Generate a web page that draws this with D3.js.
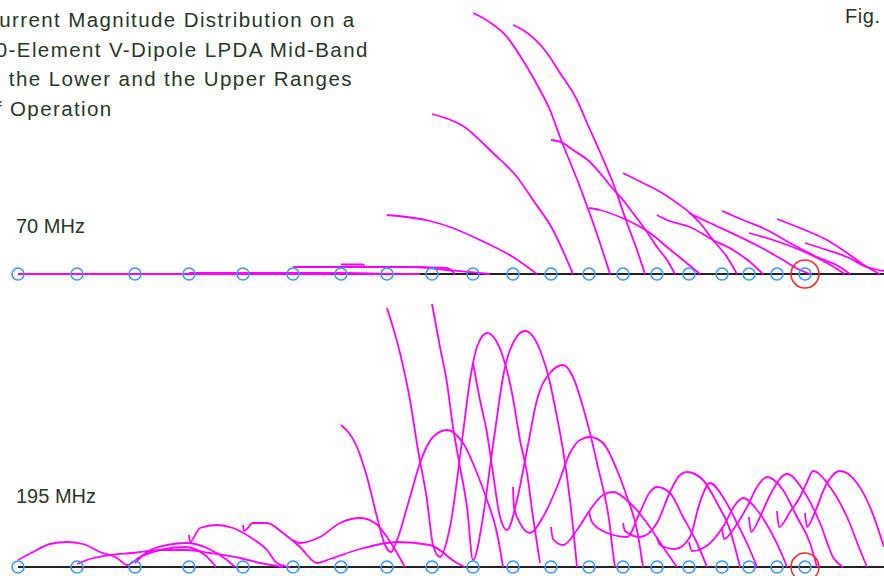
<!DOCTYPE html>
<html><head><meta charset="utf-8">
<script src="https://cdn.jsdelivr.net/npm/d3@7"></script>
<style>
html,body{margin:0;padding:0;background:#fff;}
svg{display:block;}
text{font-family:"Liberation Sans",Arial,sans-serif;fill:#263826;}
</style></head>
<body>
<svg id="chart" width="884" height="576"></svg>
<script>
// ---------- DATA ----------
const titleLines = ["Current Magnitude Distribution on a","20-Element V-Dipole LPDA Mid-Band","in the Lower and the Upper Ranges","of Operation"];
const figLabel = "Fig.";
const bandLabels = ["70 MHz","195 MHz"];
// element positions along the boom (boom units)
const elementPos = [18,77,135,189,243,293,341,387,432,473,513,551,589,623,657,689,722,749,777,805];
const feedElement = 20;
// current magnitude curves, [boom position, relative current]
const curves70 = [
 [[18,0],[216,0]],
 [[77,0],[283,0]],
 [[135,0],[330,0]],
 [[189,1],[340,1],[380,0]],
 [[243,0.5],[420,0]],
 [[293,7],[400,7],[447,6],[455,0]],
 [[341,9.5],[363,9.5],[365,7],[415,7],[447,4],[490,0]],
 [[387,59],[430,53],[450,47],[480,34],[513,17],[537,0]],
 [[432,160],[463,148],[493,121],[517,97],[533,74],[553,44],[573,0]],
 [[473,261],[483,256],[507,237],[527,207],[540,184],[550,164],[560,137],[580,87],[600,31],[610,0]],
 [[513,249],[523,244],[547,221],[560,201],[577,174],[587,151],[600,122],[613,91],[627,51],[637,24],[645,0]],
 [[551,134],[563,131],[573,124],[590,112],[600,101],[613,85],[623,74],[633,61],[647,42],[657,27],[667,14],[675,0]],
 [[589,66],[600,64],[620,57],[633,51],[650,41],[667,27],[683,14],[700,0]],
 [[623,101],[643,91],[657,84],[677,71],[690,61],[700,51],[713,34],[727,17],[737,0]],
 [[657,59],[667,54],[690,47],[713,34],[733,24],[750,12],[763,0]],
 [[689,61],[710,51],[740,37],[760,27],[783,14],[800,4],[810,0]],
 [[722,63],[743,54],[767,44],[790,31],[817,17],[840,7],[850,0]],
 [[749,41],[773,34],[800,24],[827,11],[845,0]],
 [[777,55],[800,46],[827,34],[847,21],[867,7],[880,0]],
 [[805,31],[827,24],[847,17],[867,7],[884,3]]
];
const curves195 = [
 [[18,7],[33,15],[50,23],[67,25],[83,23],[100,15],[117,9],[127,2],[140,10],[160,17],[185,20],[205,12],[216,0]],
 [[77,3],[90,8],[110,12],[133,14],[160,17],[187,17],[210,14],[240,9],[260,4],[283,0]],
 [[135,4],[147,15],[167,22],[187,24],[207,19],[227,7],[235,0]],
 [[189,32],[190,25],[200,39],[217,42],[233,39],[250,30],[267,17],[277,4],[290,0]],
 [[243,42],[244,36],[253,44],[267,44],[283,34],[300,20],[317,4],[330,8],[360,18],[397,25],[430,22],[457,4],[465,0]],
 [[293,27],[300,24],[320,30],[340,44],[360,49],[375,44],[387,30],[397,14],[405,0]],
 [[341,142],[357,120],[367,90],[377,50],[385,22],[391,15],[397,27],[410,70],[420,104],[433,130],[447,137],[463,124],[477,94],[487,67],[497,34],[503,0]],
 [[387,259],[400,214],[410,167],[418,117],[427,67],[433,22],[440,10],[450,40],[463,134],[470,187],[477,220],[487,234],[503,210],[512,174],[520,127],[527,94],[533,50],[540,4]],
 [[432,263],[440,220],[447,184],[453,140],[460,100],[467,60],[473,7],[483,50],[490,100],[497,150],[503,190],[510,217],[525,236],[540,217],[550,184],[557,150],[563,117],[570,67],[577,0]],
 [[473,204],[480,167],[487,134],[493,94],[500,50],[507,37],[517,67],[527,117],[537,167],[550,194],[563,202],[573,190],[583,160],[590,134],[597,104],[610,40],[613,14],[615,0]],
 [[513,80],[514,60],[520,44],[530,34],[543,50],[557,80],[570,114],[580,127],[590,130],[603,124],[617,97],[627,70],[637,37],[643,0]],
 [[551,40],[553,28],[563,22],[577,37],[590,57],[603,72],[613,75],[630,64],[647,44],[663,20],[677,0]],
 [[589,55],[592,45],[605,35],[627,30],[640,55],[650,75],[657,80],[670,74],[683,50],[697,24],[707,0]],
 [[623,44],[625,36],[640,30],[657,44],[670,75],[680,92],[687,95],[703,87],[717,64],[730,37],[740,0]],
 [[657,30],[660,22],[675,18],[690,30],[700,65],[710,84],[723,70],[737,44],[750,17],[757,0]],
 [[689,25],[692,16],[705,20],[723,40],[735,62],[743,69],[757,57],[770,37],[783,10],[787,0]],
 [[722,40],[724,28],[735,40],[747,60],[757,80],[767,90],[783,77],[797,50],[810,24],[817,0]],
 [[749,50],[751,35],[760,50],[770,72],[787,93],[803,77],[820,44],[833,10],[843,0]],
 [[777,56],[779,40],[790,55],[800,70],[807,85],[813,96],[830,80],[847,50],[860,17],[867,0]],
 [[805,54],[807,40],[815,55],[825,80],[840,96],[857,84],[870,60],[884,20]]
];

// ---------- DRAW ----------
const W = 884, H = 576;
const svg = d3.select("#chart");
const x = d3.scaleLinear().domain([0, 884]).range([0, W]);
const panels = [
  {label: bandLabels[0], data: curves70, y: d3.scaleLinear().domain([0, 260]).range([274, 14]), labelY: 233},
  {label: bandLabels[1], data: curves195, y: d3.scaleLinear().domain([0, 260]).range([567, 307]), labelY: 503}
];

// title (cropped at the left edge, as in the reference)
const title = svg.append("text").style("font-size", "20.5px").style("letter-spacing", "1.4px");
titleLines.forEach((t, i) => title.append("tspan").attr("x", -17).attr("y", 27 + i * 29.7).text(t));
svg.append("text").attr("x", 845).attr("y", 23).style("font-size", "20px").style("letter-spacing", "0.6px").text(figLabel);

panels.forEach(p => {
  const y = p.y;
  svg.append("text").attr("x", 16).attr("y", p.labelY).style("font-size", "20px").text(p.label);
  // boom line
  svg.append("line").attr("x1", x(elementPos[0])).attr("x2", x(884))
    .attr("y1", y(0)).attr("y2", y(0)).attr("stroke", "#222").attr("stroke-width", 2);
  // current curves
  const line = d3.line().x(d => x(d[0])).y(d => y(d[1])).curve(d3.curveMonotoneX);
  svg.append("g").selectAll("path").data(p.data).join("path")
    .attr("d", line).attr("fill", "none").attr("stroke", "#ff00ff").attr("stroke-width", 1.8);
  // elements
  svg.append("g").selectAll("circle").data(elementPos).join("circle")
    .attr("cx", d => x(d)).attr("cy", y(0)).attr("r", 6)
    .attr("fill", "none").attr("stroke", "#3399ff").attr("stroke-width", 1.6);
  svg.append("circle").attr("cx", x(elementPos[feedElement - 1])).attr("cy", y(0)).attr("r", 14)
    .attr("fill", "none").attr("stroke", "#ff2a2a").attr("stroke-width", 1.6);
});
</script>
</body></html>
